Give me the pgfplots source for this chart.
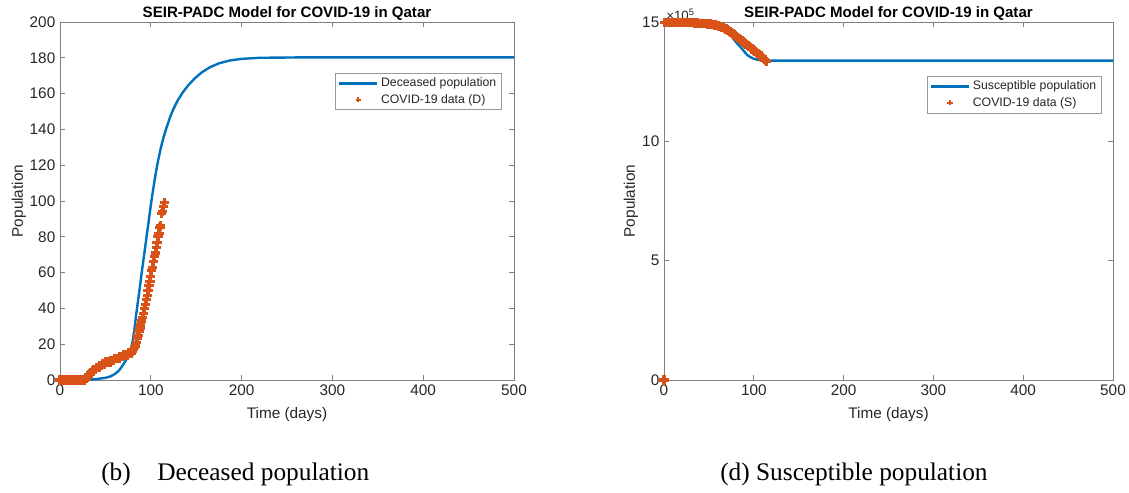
\documentclass[border=0pt]{standalone}
\usepackage{fontspec}
\setmainfont{Liberation Sans}
\newfontfamily\capfont{Liberation Serif}
\usepackage{pgfplots}
\pgfplotsset{compat=1.18}
\definecolor{mblue}{HTML}{0072BD}
\definecolor{morange}{HTML}{D95319}
\definecolor{mtext}{HTML}{262626}
\pgfplotsset{
 mat/.style={
  scale only axis, height=268.5pt,
  xmin=0, xmax=500, xtick={0,100,...,500},
  axis line style={draw=black!50, line width=0.6pt},
  tick style={draw=black!50, line width=0.6pt},
  major tick length=4pt,
  tick align=inside,
  /pgf/number format/assume math mode=true,
  ticklabel style={font=\fontsize{11.5}{13}\selectfont, text=mtext},
  label style={font=\fontsize{11.5}{13}\selectfont, text=mtext},
  xlabel={Time (days)}, ylabel={Population},
  xlabel style={at={(axis description cs:0.5,-0.0978)}, anchor=center},
  title={SEIR-PADC Model for COVID-19 in Qatar},
  every axis title shift=0pt,
  title style={font=\bfseries\fontsize{11.3}{13}\selectfont, at={(axis description cs:0.5,1)}, anchor=base, yshift=3.5pt},
  legend style={draw=black!40, line width=0.5pt, font=\fontsize{9.2}{11}\selectfont, text=mtext, inner xsep=2pt, inner ysep=1.5pt, row sep=0pt, cells={anchor=west}},
  legend cell align=left,
  clip=false,
 },
 modelline/.style={mblue, line width=1.8pt, no markers,
   legend image code/.code={\draw[##1,line width=1.8pt] (0pt,0pt) -- (28.5pt,0pt);}},
 datamarks/.style={morange, only marks, mark=+, mark size=3.5pt, mark options={line width=2.4pt},
   legend image code/.code={\draw[##1,mark size=2pt,mark options={line width=1.3pt}] plot coordinates {(14.25pt,0pt)};}},
}
\begin{document}
\begin{tikzpicture}
\useasboundingbox (0,0) rectangle (846.75pt,369.75pt);
% ---------- left: deceased ----------
\begin{axis}[mat, at={(45pt,84.75pt)}, anchor=south west, width=340.5pt,
  ymin=0, ymax=200, ytick={0,20,...,200},
  ylabel style={at={(axis description cs:-0.0903,0.5)}, anchor=center},
  legend style={at={(0.9736,0.8575)}, anchor=north east}]
\addplot[modelline] coordinates {
(0,0) (20,0) (30,0.1) (40,0.5) (50,1.2) (55,1.9) (60,3.2) (65,5.3) (68,7.4) (72,10.5) (74,12.6)
(76,14.5) (78,17.5) (80,21.5) (82,28.5) (84,37) (86,44.5) (88,52) (90,60) (92,67.5) (94,75)
(96,82.5) (98,90) (100,97.5) (102,104.5) (104,111) (106,117) (108,122.5) (111,129.5) (114,135.5)
(117,140.5) (121,146.5) (125,151.5) (130,156.5) (135,160.5) (141,164.5) (148,168.3) (156,171.8)
(165,174.7) (175,176.9) (187,178.5) (200,179.4) (220,180) (260,180.2) (500,180.2)};
\addlegendentry{Deceased population}
\addplot[datamarks] coordinates {
(0,0) (1,0) (2,0) (3,0) (4,0) (5,0) (6,0) (7,0) (8,0) (9,0) (10,0) (11,0) (12,0) (13,0) (14,0)
(15,0) (16,0) (17,0) (18,0) (19,0) (20,0) (21,0) (22,0) (23,0) (24,0) (25,0) (26,0) (27,0)
(28,1) (29,1) (30,2) (31,2) (32,3) (33,3) (34,4) (35,4) (36,5) (37,6) (38,6) (39,6) (40,7)
(41,7) (42,7) (43,7) (44,8) (45,8) (46,8) (47,9) (48,9) (49,9) (50,10) (51,10) (52,10) (53,10)
(54,10) (55,10) (56,11) (57,11) (58,11) (59,11) (60,12) (61,12) (62,12) (63,12) (64,12) (65,12)
(66,13) (67,13) (68,13) (69,13) (70,14) (71,14) (72,14) (73,14) (74,14) (75,15) (76,15) (77,15)
(78,15) (79,15) (80,16) (81,17) (82,18) (83,19) (84,21) (85,23) (86,25) (87,27) (88,29) (89,31)
(90,33) (91,35) (92,37) (93,40) (94,42) (95,45) (96,47) (97,50) (98,53) (99,55) (100,58) (101,61)
(102,63) (103,66) (104,69) (105,71) (106,74) (107,77) (108,80) (109,82) (110,85) (111,86)
(112,93) (113,94) (114,97) (115,99)};
\addlegendentry{COVID-19 data (D)}
\end{axis}
% ---------- right: susceptible ----------
\begin{axis}[mat, at={(498pt,84.75pt)}, anchor=south west, width=336.75pt,
  ymin=0, ymax=15, ytick={0,5,10,15},
  ylabel style={at={(axis description cs:-0.0735,0.5)}, anchor=center},
  legend style={at={(0.9755,0.849)}, anchor=north east}]
\addplot[modelline] coordinates {
(0,14.98) (20,14.98) (40,14.97) (50,14.94) (55,14.91) (60,14.86) (65,14.78) (70,14.62) (74,14.45)
(77,14.31) (81,14.12) (85,13.96) (89,13.78) (92,13.64) (96,13.53) (100,13.46) (105,13.41)
(111,13.39) (120,13.38) (500,13.38)};
\addlegendentry{Susceptible population}
\addplot[datamarks] coordinates {
(0,0) (1,14.98) (2,14.98) (3,14.98) (4,14.98) (5,14.98) (6,14.98) (7,14.98) (8,14.98) (9,14.98)
(10,14.98) (11,14.98) (12,14.98) (13,14.98) (14,14.98) (15,14.98) (16,14.98) (17,14.98) (18,14.98)
(19,14.98) (20,14.98) (21,14.98) (22,14.98) (23,14.98) (24,14.98) (25,14.98) (26,14.98) (27,14.98)
(28,14.97) (29,14.97) (30,14.97) (31,14.97) (32,14.97) (33,14.97) (34,14.96) (35,14.96) (36,14.96)
(37,14.96) (38,14.95) (39,14.95) (40,14.95) (41,14.95) (42,14.94) (43,14.94) (44,14.94) (45,14.94)
(46,14.93) (47,14.93) (48,14.93) (49,14.92) (50,14.92) (51,14.91) (52,14.91) (53,14.90) (54,14.89)
(55,14.89) (56,14.88) (57,14.87) (58,14.86) (59,14.85) (60,14.84) (61,14.83) (62,14.82) (63,14.80)
(64,14.79) (65,14.77) (66,14.76) (67,14.74) (68,14.72) (69,14.70) (70,14.68) (71,14.66) (72,14.63)
(73,14.61) (74,14.58) (75,14.56) (76,14.53) (77,14.50) (78,14.47) (79,14.44) (80,14.41) (81,14.38)
(82,14.35) (83,14.32) (84,14.29) (85,14.26) (86,14.23) (87,14.20) (88,14.17) (89,14.14) (90,14.11)
(91,14.08) (92,14.05) (93,14.02) (94,13.99) (95,13.96) (96,13.93) (97,13.90) (98,13.87) (99,13.84)
(100,13.81) (101,13.78) (102,13.75) (103,13.72) (104,13.69) (105,13.66) (106,13.63) (107,13.60)
(108,13.57) (109,13.54) (110,13.51) (111,13.46) (112,13.42) (113,13.38) (114,13.35)};
\addlegendentry{COVID-19 data (S)}
\node[anchor=south west, inner sep=0pt, xshift=1.5pt, yshift=1pt, text=mtext,
  font=\fontsize{10}{11}\selectfont] at (rel axis cs:0,1) {×10\textsuperscript{5}};
\end{axis}
% ---------- captions ----------
\node[anchor=base west, inner sep=0pt, font=\capfont\fontsize{19}{22}\selectfont] at (75.75pt,9.5pt) {(b)\hspace{20pt}Deceased population};
\node[anchor=base west, inner sep=0pt, font=\capfont\fontsize{19}{22}\selectfont] at (540pt,9.5pt) {(d) Susceptible population};
\end{tikzpicture}
\end{document}
